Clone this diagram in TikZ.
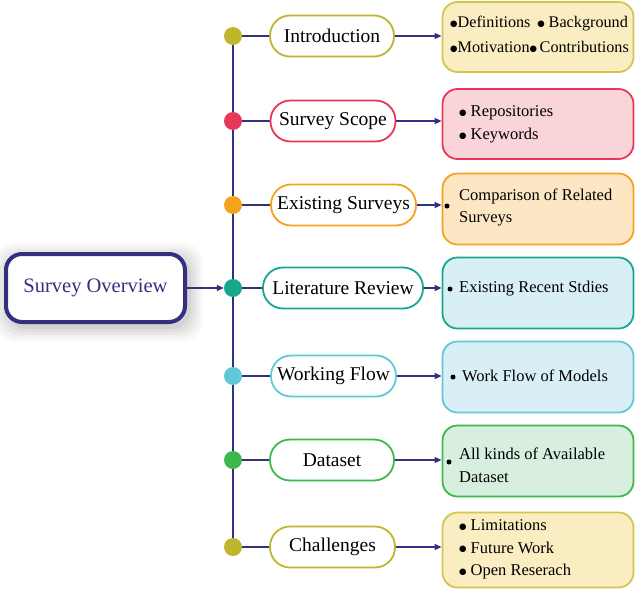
\documentclass[tikz,border=0pt]{standalone}
\usepackage{fontspec}
\setmainfont{Liberation Serif}
\newfontfamily\dvs{DejaVu Sans}
\usetikzlibrary{arrows.meta}
\definecolor{navy}{HTML}{34307F}
\definecolor{cA}{HTML}{BFB62E}\definecolor{fA}{HTML}{FAEDC2}\definecolor{bA}{HTML}{D2C64C}
\definecolor{cB}{HTML}{E8385A}\definecolor{fB}{HTML}{F9D4D9}
\definecolor{cC}{HTML}{F7A21E}\definecolor{fC}{HTML}{FCE6C4}
\definecolor{cD}{HTML}{17A88C}\definecolor{fD}{HTML}{D9EFF6}
\definecolor{cE}{HTML}{60C8D8}\definecolor{fE}{HTML}{D9EFF6}
\definecolor{cF}{HTML}{3DB94B}\definecolor{fF}{HTML}{D8EFE0}
\newcommand\bu{\raisebox{1.4pt}{\fontsize{8.5}{8.5}\dvs ●}}
\pgfdeclarelayer{bg}\pgfsetlayers{bg,main}
\begin{document}
\begin{tikzpicture}[x=1pt,y=-1pt,
  dot/.style={circle,inner sep=0pt,minimum size=18pt},
  pill/.style={draw,fill=white,line width=1.8pt,rounded corners=20pt,minimum height=41pt,inner sep=0pt,font=\fontsize{19.5}{22}\selectfont},
  infobox/.style={draw,line width=1.8pt,rounded corners=15pt,minimum width=191pt,inner sep=0pt},
  info/.style={anchor=west,inner sep=0pt,align=left,font=\fontsize{16.5}{22.5}\selectfont},
  bul/.style={circle,fill=black,inner sep=0pt,minimum size=5pt},
  link/.style={draw=navy,line width=1.5pt},
  arr/.style={link,-{Triangle[length=7pt,width=6pt]}}]
\useasboundingbox (0,0) rectangle (640,589);
% left box shadow
\foreach \s/\o in {14/0.025,11/0.03,8/0.035,5/0.04,2/0.05}{
  \fill[black,opacity=\o,rounded corners=20pt] (5-\s+3,252-\s+5) rectangle (186+\s+3,322+\s+5);
}
\node[draw=navy,fill=white,line width=4pt,rounded corners=16pt,minimum width=179pt,minimum height=68pt,text=navy,font=\fontsize{20.5}{24}\selectfont] (so) at (95.5,288) {Survey Overview};
% dots
\node[dot,fill=cA] (d1) at (233,36) {};
\node[dot,fill=cB] (d2) at (233,121) {};
\node[dot,fill=cC] (d3) at (233,205) {};
\node[dot,fill=cD] (d4) at (233,288) {};
\node[dot,fill=cE] (d5) at (233,376) {};
\node[dot,fill=cF] (d6) at (233,460) {};
\node[dot,fill=cA] (d7) at (233,547) {};
% pills
\node[pill,draw=cA,minimum width=124pt] (p1) at (332,36) {Introduction};
\node[pill,draw=cB,minimum width=125pt] (p2) at (333,121) {Survey Scope};
\node[pill,draw=cC,minimum width=145pt] (p3) at (343.5,205) {Existing Surveys};
\node[pill,draw=cD,minimum width=160pt] (p4) at (343,288) {Literature Review};
\node[pill,draw=cE,minimum width=125pt] (p5) at (333.5,376) {Working Flow};
\node[pill,draw=cF,minimum width=124pt] (p6) at (332,460) {Dataset};
\node[pill,draw=cA,minimum width=125pt] (p7) at (332.5,547) {Challenges};
% info boxes
\node[infobox,draw=bA,fill=fA,minimum height=70pt] (b1) at (538,37) {};
\node[infobox,draw=cB,fill=fB,minimum height=70pt] (b2) at (538,124) {};
\node[infobox,draw=cC,fill=fC,minimum height=71pt] (b3) at (538,209) {};
\node[infobox,draw=cD,fill=fD,minimum height=71pt] (b4) at (538,293) {};
\node[infobox,draw=cE,fill=fE,minimum height=71pt] (b5) at (538,377) {};
\node[infobox,draw=cF,fill=fF,minimum height=71pt] (b6) at (538,461) {};
\node[infobox,draw=bA,fill=fA,minimum height=75pt] (b7) at (538,550) {};
% connectors
\begin{pgfonlayer}{bg}
\draw[link] (d1.center) -- (d7.center);
\foreach \i in {1,...,7}{\draw[link] (d\i.center) -- (p\i.west);}
\end{pgfonlayer}
\draw[arr] (so.east) -- (d4.west);
\foreach \i in {1,...,7}{\draw[arr] (p\i.east) -- (p\i.east -| b\i.west);}
% texts
\node[info,font=\fontsize{16.2}{25}\selectfont] (t1) at (450,34.5) {\bu Definitions\, \bu\ Background\\\bu Motivation\bu\,Contributions};
\node[info] (t2) at (459,124.5) {\bu\ Repositories\\\bu\ Keywords};
\node[bul] (u3) at (447,206) {};
\node[info] (t3) at (459,207.5) {Comparison of Related\\Surveys};
\node[bul] (u4) at (450,289) {};
\node[info] (t4) at (459,289) {Existing Recent Stdies};
\node[bul] (u5) at (453,377) {};
\node[info] (t5) at (462,376) {Work Flow of Models};
\node[bul] (u6) at (449,462) {};
\node[info] (t6) at (459,465.5) {All kinds of Available\\Dataset};
\node[info] (t7) at (459,549.5) {\bu\ Limitations\\\bu\ Future Work\\\bu\ Open Reserach};
\end{tikzpicture}
\end{document}
